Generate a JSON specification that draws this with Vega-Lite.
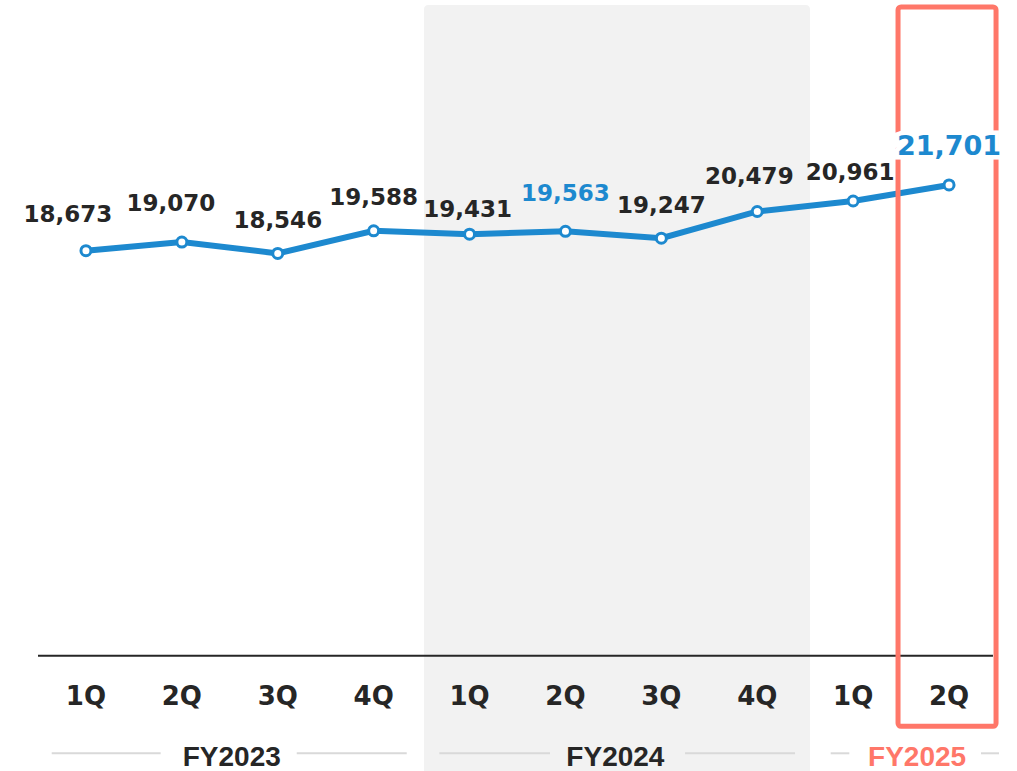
{
  "$schema": "https://vega.github.io/schema/vega-lite/v6.json",
  "width": 959,
  "height": 771,
  "padding": {"left": 38, "right": 20, "top": 0, "bottom": 0},
  "autosize": {"type": "none"},
  "background": "white",
  "config": {"view": {"stroke": null}},
  "datasets": {
    "sales": [
      {"idx": 0, "q": "1Q", "fy": "FY2023", "value": 18673},
      {"idx": 1, "q": "2Q", "fy": "FY2023", "value": 19070},
      {"idx": 2, "q": "3Q", "fy": "FY2023", "value": 18546},
      {"idx": 3, "q": "4Q", "fy": "FY2023", "value": 19588},
      {"idx": 4, "q": "1Q", "fy": "FY2024", "value": 19431},
      {"idx": 5, "q": "2Q", "fy": "FY2024", "value": 19563},
      {"idx": 6, "q": "3Q", "fy": "FY2024", "value": 19247},
      {"idx": 7, "q": "4Q", "fy": "FY2024", "value": 20479},
      {"idx": 8, "q": "1Q", "fy": "FY2025", "value": 20961},
      {"idx": 9, "q": "2Q", "fy": "FY2025", "value": 21701}
    ],
    "one": [{"k": 1}]
  },
  "data": {"name": "sales"},
  "layer": [
    {
      "data": {"name": "one"},
      "mark": {"type": "rect", "color": "#f2f2f2", "cornerRadius": 4},
      "encoding": {
        "x": {"datum": 3.525, "type": "quantitative", "scale": {"domain": [-0.5, 9.5], "nice": false, "zero": false}, "axis": null},
        "x2": {"datum": 7.55},
        "y": {"datum": 30000, "type": "quantitative", "scale": {"domain": [-5310, 30226], "nice": false, "zero": false}, "axis": null},
        "y2": {"datum": -6000}
      }
    },
    {
      "data": {"name": "one"},
      "mark": {"type": "rule", "color": "#262626", "strokeWidth": 2},
      "encoding": {
        "x": {"datum": -0.5, "type": "quantitative"},
        "x2": {"datum": 9.458},
        "y": {"datum": 0, "type": "quantitative"}
      }
    },
    {
      "mark": {"type": "line", "color": "#1d89cf", "strokeWidth": 6},
      "encoding": {
        "x": {"field": "idx", "type": "quantitative"},
        "y": {"field": "value", "type": "quantitative"}
      }
    },
    {
      "data": {"name": "one"},
      "mark": {"type": "rect", "filled": false, "stroke": "#ff7769", "strokeWidth": 5, "cornerRadius": 3},
      "encoding": {
        "x": {"datum": 8.468, "type": "quantitative"},
        "x2": {"datum": 9.49},
        "y": {"datum": 29903, "type": "quantitative"},
        "y2": {"datum": -3249}
      }
    },
    {
      "mark": {"type": "point", "shape": "circle", "filled": true, "fill": "white", "stroke": "#1d89cf", "strokeWidth": 3, "size": 100, "opacity": 1},
      "encoding": {
        "x": {"field": "idx", "type": "quantitative"},
        "y": {"field": "value", "type": "quantitative"}
      }
    },
    {
      "transform": [{"filter": "datum.idx == 2 || datum.idx == 3 || datum.idx == 6"}],
      "mark": {"type": "text", "font": "DejaVu Sans", "fontWeight": "bold", "fontSize": 23, "baseline": "alphabetic", "align": "center", "dy": -25.5, "color": "#262626"},
      "encoding": {
        "x": {"field": "idx", "type": "quantitative"},
        "y": {"field": "value", "type": "quantitative"},
        "text": {"field": "value", "type": "quantitative", "format": ","}
      }
    },
    {
      "transform": [{"filter": "datum.idx == 0"}],
      "mark": {"type": "text", "font": "DejaVu Sans", "fontWeight": "bold", "fontSize": 23, "baseline": "alphabetic", "align": "center", "dy": -29, "dx": -18, "color": "#262626"},
      "encoding": {
        "x": {"field": "idx", "type": "quantitative"},
        "y": {"field": "value", "type": "quantitative"},
        "text": {"field": "value", "type": "quantitative", "format": ","}
      }
    },
    {
      "transform": [{"filter": "datum.idx == 1"}],
      "mark": {"type": "text", "font": "DejaVu Sans", "fontWeight": "bold", "fontSize": 23, "baseline": "alphabetic", "align": "center", "dy": -31, "dx": -11, "color": "#262626"},
      "encoding": {
        "x": {"field": "idx", "type": "quantitative"},
        "y": {"field": "value", "type": "quantitative"},
        "text": {"field": "value", "type": "quantitative", "format": ","}
      }
    },
    {
      "transform": [{"filter": "datum.idx == 4"}],
      "mark": {"type": "text", "font": "DejaVu Sans", "fontWeight": "bold", "fontSize": 23, "baseline": "alphabetic", "align": "center", "dy": -17.5, "dx": -2, "color": "#262626"},
      "encoding": {
        "x": {"field": "idx", "type": "quantitative"},
        "y": {"field": "value", "type": "quantitative"},
        "text": {"field": "value", "type": "quantitative", "format": ","}
      }
    },
    {
      "transform": [{"filter": "datum.idx == 5"}],
      "mark": {"type": "text", "font": "DejaVu Sans", "fontWeight": "bold", "fontSize": 23, "baseline": "alphabetic", "align": "center", "dy": -30.5, "color": "#1d89cf"},
      "encoding": {
        "x": {"field": "idx", "type": "quantitative"},
        "y": {"field": "value", "type": "quantitative"},
        "text": {"field": "value", "type": "quantitative", "format": ","}
      }
    },
    {
      "transform": [{"filter": "datum.idx == 7"}],
      "mark": {"type": "text", "font": "DejaVu Sans", "fontWeight": "bold", "fontSize": 23, "baseline": "alphabetic", "align": "center", "dy": -27.5, "dx": -8, "color": "#262626"},
      "encoding": {
        "x": {"field": "idx", "type": "quantitative"},
        "y": {"field": "value", "type": "quantitative"},
        "text": {"field": "value", "type": "quantitative", "format": ","}
      }
    },
    {
      "transform": [{"filter": "datum.idx == 8"}],
      "mark": {"type": "text", "font": "DejaVu Sans", "fontWeight": "bold", "fontSize": 23, "baseline": "alphabetic", "align": "center", "dy": -21, "dx": -3, "color": "#262626"},
      "encoding": {
        "x": {"field": "idx", "type": "quantitative"},
        "y": {"field": "value", "type": "quantitative"},
        "text": {"field": "value", "type": "quantitative", "format": ","}
      }
    },
    {
      "transform": [{"filter": "datum.idx == 9"}],
      "mark": {"type": "text", "font": "DejaVu Sans", "fontWeight": "bold", "fontSize": 27, "baseline": "alphabetic", "align": "center", "dy": -30, "color": "white", "stroke": "white", "strokeWidth": 9},
      "encoding": {
        "x": {"field": "idx", "type": "quantitative"},
        "y": {"field": "value", "type": "quantitative"},
        "text": {"field": "value", "type": "quantitative", "format": ","}
      }
    },
    {
      "transform": [{"filter": "datum.idx == 9"}],
      "mark": {"type": "text", "font": "DejaVu Sans", "fontWeight": "bold", "fontSize": 27, "baseline": "alphabetic", "align": "center", "dy": -30, "color": "#1d89cf"},
      "encoding": {
        "x": {"field": "idx", "type": "quantitative"},
        "y": {"field": "value", "type": "quantitative"},
        "text": {"field": "value", "type": "quantitative", "format": ","}
      }
    },
    {
      "mark": {"type": "text", "font": "DejaVu Sans", "fontWeight": "bold", "fontSize": 26, "baseline": "alphabetic", "align": "center", "color": "#262626"},
      "encoding": {
        "x": {"field": "idx", "type": "quantitative"},
        "y": {"datum": -2268, "type": "quantitative"},
        "text": {"field": "q", "type": "nominal"}
      }
    },
    {"data": {"name": "one"}, "mark": {"type": "rule", "color": "#d9d9d9", "strokeWidth": 2},
     "encoding": {"x": {"datum": -0.357, "type": "quantitative"}, "x2": {"datum": 0.779}, "y": {"datum": -4494, "type": "quantitative"}}},
    {"data": {"name": "one"}, "mark": {"type": "rule", "color": "#d9d9d9", "strokeWidth": 2},
     "encoding": {"x": {"datum": 2.198, "type": "quantitative"}, "x2": {"datum": 3.345}, "y": {"datum": -4494, "type": "quantitative"}}},
    {"data": {"name": "one"}, "mark": {"type": "rule", "color": "#d9d9d9", "strokeWidth": 2},
     "encoding": {"x": {"datum": 3.685, "type": "quantitative"}, "x2": {"datum": 4.839}, "y": {"datum": -4494, "type": "quantitative"}}},
    {"data": {"name": "one"}, "mark": {"type": "rule", "color": "#d9d9d9", "strokeWidth": 2},
     "encoding": {"x": {"datum": 6.247, "type": "quantitative"}, "x2": {"datum": 7.394}, "y": {"datum": -4494, "type": "quantitative"}}},
    {"data": {"name": "one"}, "mark": {"type": "rule", "color": "#d9d9d9", "strokeWidth": 2},
     "encoding": {"x": {"datum": 7.766, "type": "quantitative"}, "x2": {"datum": 7.96}, "y": {"datum": -4494, "type": "quantitative"}}},
    {"data": {"name": "one"}, "mark": {"type": "rule", "color": "#d9d9d9", "strokeWidth": 2},
     "encoding": {"x": {"datum": 9.333, "type": "quantitative"}, "x2": {"datum": 9.521}, "y": {"datum": -4494, "type": "quantitative"}}},
    {
      "transform": [{"filter": "datum.fy != 'FY2025'"}],
      "mark": {"type": "text", "font": "Liberation Sans", "fontWeight": "bold", "fontSize": 28, "baseline": "alphabetic", "align": "center", "color": "#262626", "dx": 2},
      "encoding": {
        "x": {"aggregate": "mean", "field": "idx", "type": "quantitative"},
        "y": {"datum": -5079, "type": "quantitative"},
        "text": {"field": "fy", "type": "nominal"}
      }
    },
    {
      "transform": [{"filter": "datum.fy == 'FY2025'"}],
      "mark": {"type": "text", "font": "Liberation Sans", "fontWeight": "bold", "fontSize": 28, "baseline": "alphabetic", "align": "center", "color": "#ff7769", "dx": 16},
      "encoding": {
        "x": {"aggregate": "mean", "field": "idx", "type": "quantitative"},
        "y": {"datum": -5079, "type": "quantitative"},
        "text": {"field": "fy", "type": "nominal"}
      }
    }
  ]
}
